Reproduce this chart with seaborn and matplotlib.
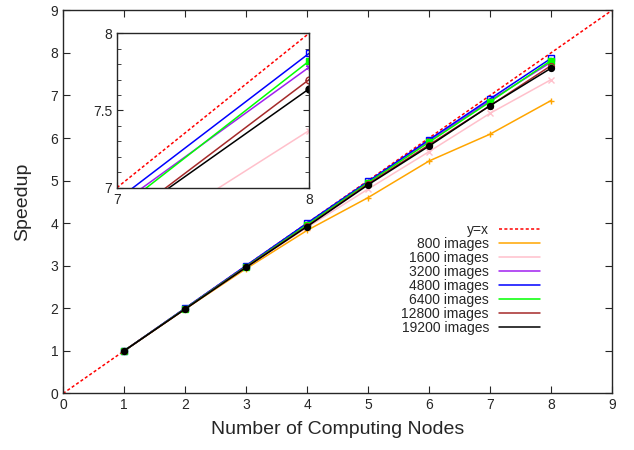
import numpy as np
import pandas as pd
import matplotlib
matplotlib.use("Agg")
import matplotlib.pyplot as plt
from matplotlib.lines import Line2D
import seaborn as sns

sns.set_style("ticks")
plt.rcParams["font.family"] = ["Liberation Sans", "DejaVu Sans"]

# dados
nodes = [1, 2, 3, 4, 5, 6, 7, 8]
s800 = [1.0, 1.98, 2.93, 3.83, 4.60, 5.46, 6.09, 6.88]
s1600 = [1.0, 1.99, 2.96, 3.90, 4.80, 5.68, 6.58, 7.37]
s3200 = [1.0, 2.00, 3.00, 3.99, 4.97, 5.93, 6.88, 7.78]
s4800 = [1.0, 2.00, 3.00, 4.00, 4.98, 5.96, 6.92, 7.87]
s6400 = [1.0, 1.99, 2.98, 3.96, 4.95, 5.90, 6.85, 7.82]
s12800 = [1.0, 1.98, 2.97, 3.93, 4.92, 5.84, 6.76, 7.70]
s19200 = [1.0, 1.98, 2.96, 3.92, 4.90, 5.81, 6.76, 7.64]

labels = ["800 images", "1600 images", "3200 images", "4800 images",
          "6400 images", "12800 images", "19200 images"]
series = [s800, s1600, s3200, s4800, s6400, s12800, s19200]

# estilos (cor, marcador, preenchido)
estilos = [
    ("#FFA500", "+", True),
    ("#FFC0CB", "x", True),
    ("#A020F0", (6, 2, 0), True),
    ("#0000FF", "s", False),
    ("#00FF00", "s", True),
    ("#A52A2A", "o", False),
    ("#000000", "o", True),
]


def desenhar(ax, ms):
    ax.axline((0, 0), slope=1, color="red", ls=(0, (2, 1.5)), lw=1.1)
    for vals, (cor, mk, cheio) in zip(series, estilos):
        sns.lineplot(x=nodes, y=vals, ax=ax, color=cor, marker=mk, lw=1.1,
                     markersize=ms, markeredgecolor=cor,
                     markerfacecolor=cor if cheio else "none",
                     markeredgewidth=1.0)


fig = plt.figure(figsize=(6.34, 4.5), dpi=100)
ax = fig.add_axes([0.0994, 0.1256, 0.866, 0.8516])
desenhar(ax, 4.2)
ax.set_xlim(0, 9)
ax.set_ylim(0, 9)
ax.set_xticks(range(10))
ax.set_yticks(range(10))
ax.tick_params(direction="in", top=True, right=True, length=5, labelsize=10)
ax.set_xlabel("Number of Computing Nodes", fontsize=14, labelpad=6)
ax.set_ylabel("Speedup", fontsize=14, labelpad=14)
for s in ax.spines.values():
    s.set_linewidth(1.0)

handles = [Line2D([], [], color="red", ls=(0, (2, 1.5)), lw=1.1)]
handles += [Line2D([], [], color=c, lw=1.1) for c, _, _ in estilos]
ax.legend(handles, ["y=x"] + labels, loc="lower right",
          bbox_to_anchor=(0.892, 0.12), frameon=False, markerfirst=False,
          fontsize=10, handlelength=3.0, labelspacing=0.0, handletextpad=0.7)

# inset com zoom entre 7 e 8
axin = fig.add_axes([0.1845, 0.583, 0.303, 0.343])
desenhar(axin, 5)
axin.set_xlim(7, 8)
axin.set_ylim(7, 8)
axin.set_xticks([7, 8])
axin.set_yticks([7, 7.5, 8])
axin.set_yticklabels(["7", "7.5", "8"])
axin.set_yticks(np.arange(7, 8.01, 0.1), minor=True)
axin.tick_params(which="both", direction="in", top=True, right=True,
                 length=4, labelsize=10)
axin.tick_params(which="minor", length=3)
for s in axin.spines.values():
    s.set_linewidth(1.0)

fig.savefig("out.png", dpi=100)
